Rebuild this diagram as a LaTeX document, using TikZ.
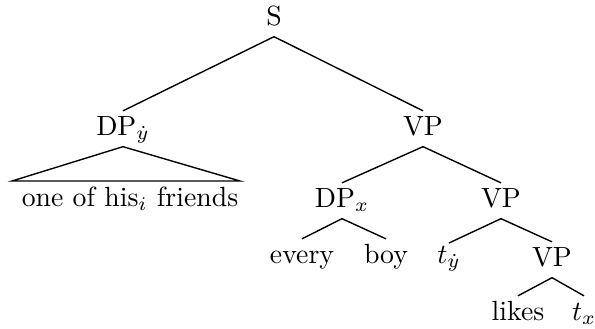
\documentclass[tikz,border=0pt]{standalone}
\begin{document}
\begin{tikzpicture}[x=0.36pt,y=-0.36pt,
  tn/.style={anchor=base,inner sep=1.5pt,text height=7pt,text depth=2.5pt},
  edge/.style={line width=0.5pt}]
\useasboundingbox (0,0) rectangle (595,328);
\node[tn] (S) at (274,25) {S};
\node[tn] (DPy) at (123,135) {DP$_{\dot{y}}$};
\node[tn] (VP1) at (423,135) {VP};
\node[tn] (fr) at (130,206) {one of his$_i$ friends};
\coordinate (bl) at (12,181);
\coordinate (br) at (240,181);
\node[tn] (DPx) at (342,207) {DP$_x$};
\node[tn] (VP2) at (501,207) {VP};
\node[tn] (every) at (302,263) {every};
\node[tn] (boy) at (386,263) {boy};
\node[tn,text height=5.5pt] (ty) at (449,263) {$t_{\dot{y}}$};
\node[tn] (VP3) at (552,266) {VP};
\node[tn] (likes) at (518,320) {likes};
\node[tn] (tx) at (584,320) {$t_x$};
\draw[edge] (S.south) -- (DPy.north);
\draw[edge] (S.south) -- (VP1.north);
\draw[edge] (bl) -- (DPy.south) -- (br) -- cycle;
\draw[edge] (VP1.south) -- (DPx.north);
\draw[edge] (VP1.south) -- (VP2.north);
\draw[edge] (DPx.south) -- (every.north);
\draw[edge] (DPx.south) -- (boy.north);
\draw[edge] (VP2.south) -- (ty.north);
\draw[edge] (VP2.south) -- (VP3.north);
\draw[edge] (VP3.south) -- (likes.north);
\draw[edge] (VP3.south) -- (tx.north);
\end{tikzpicture}
\end{document}
